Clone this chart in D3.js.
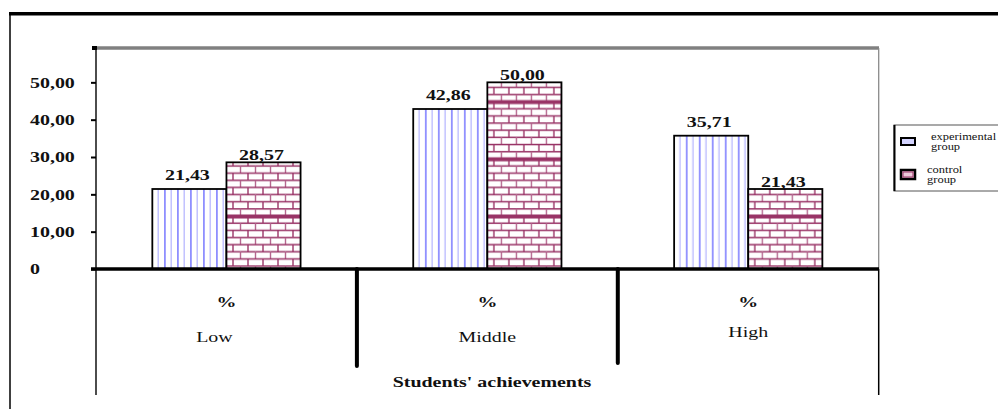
<!DOCTYPE html>
<html>
<head>
<meta charset="utf-8">
<script src="https://cdn.jsdelivr.net/npm/d3@7"></script>
<style>
  html, body { margin: 0; padding: 0; background: #fff; }
  #chart { width: 998px; height: 409px; }
  text { font-family: "Liberation Serif", "Times New Roman", serif; fill: #111; }
</style>
</head>
<body>
<div id="chart"></div>
<script>
// data
const categories = ["Low", "Middle", "High"];
const seriesNames = ["experimental group", "control group"];
const experimental = [21.43, 42.86, 35.71];
const control = [28.57, 50.00, 21.43];
const yTicks = [0, 10, 20, 30, 40, 50];
const yTop = 59.2;
const axisTitle = "Students' achievements";

const W = 998, H = 409;
const SX = 1.33; // source picture is stretched sideways, text too

const svg = d3.select("#chart").append("svg")
  .attr("width", W).attr("height", H);
const defs = svg.append("defs");

// vertical stripes for experimental group
const stripe = defs.append("pattern")
  .attr("id", "stripe").attr("patternUnits", "userSpaceOnUse")
  .attr("width", 13).attr("height", 10).attr("x", 3);
stripe.append("rect").attr("width", 13).attr("height", 10).attr("fill", "#fff");
[[0, 1.8, "#8f8fff"], [6.5, 1.4, "#bdbdff"]]
  .forEach(([x, w, c]) => stripe.append("rect")
    .attr("x", x).attr("width", w).attr("height", 10).attr("fill", c));

// brick pattern for control group
const rowH = 7.15, rows = 8, brickW = 15;
const brick = defs.append("pattern")
  .attr("id", "brick").attr("patternUnits", "userSpaceOnUse")
  .attr("width", brickW).attr("height", rowH * rows).attr("y", 44.4).attr("x", 2);
brick.append("rect").attr("width", brickW).attr("height", rowH * rows).attr("fill", "#fff");
for (let i = 0; i < rows; i++) {
  brick.append("rect")
    .attr("x", 0).attr("y", i * rowH - (i === 0 ? 1.5 : 0.7))
    .attr("width", brickW).attr("height", i === 0 ? 4 : 1.5)
    .attr("fill", "#993366");
  const vx = i % 2 ? brickW / 2 : 0;
  brick.append("rect")
    .attr("x", vx - 0.7).attr("y", i * rowH)
    .attr("width", 1.4).attr("height", rowH)
    .attr("fill", i % 2 ? "#b5678f" : "#993366");
  if (vx === 0) brick.append("rect")
    .attr("x", brickW - 0.7).attr("y", i * rowH)
    .attr("width", 1.4).attr("height", rowH).attr("fill", "#993366");
}
brick.append("rect").attr("x", 0).attr("y", rowH * rows - 1.5)
  .attr("width", brickW).attr("height", 1.5).attr("fill", "#993366");

// scales
const x0 = d3.scaleBand().domain(categories).range([96, 878.7]);
const x1 = d3.scaleBand().domain(seriesNames).range([0, x0.bandwidth()]).paddingOuter(0.76);
const y = d3.scaleLinear().domain([0, yTop]).range([269, 48]);
const fmt = v => v === 0 ? "0" : d3.format(".2f")(v).replace(".", ",");

const line = (x1_, y1_, x2_, y2_, w, c) => svg.append("line")
  .attr("x1", x1_).attr("y1", y1_).attr("x2", x2_).attr("y2", y2_)
  .attr("stroke", c || "#000").attr("stroke-width", w);

// outer frame
line(9, 13.7, W, 13.7, 3.5);
line(10, 13, 10, H, 1.5);

// plot frame
line(96, y(yTop), 879, y(yTop), 3.5, "#808080");
svg.append("rect").attr("x", 92).attr("y", y(yTop) - 2).attr("width", 5).attr("height", 4).attr("fill", "#000");
line(878.7, y(yTop), 878.7, y(0), 1.3, "#8a8a8a");
line(878.7, y(0), 878.7, 395, 1.5);
line(96, y(yTop), 96, 395, 1.4);

// y ticks
const yAxis = svg.append("g").attr("transform", "translate(96,0)")
  .call(d3.axisLeft(y).tickValues(yTicks).tickSize(5).tickFormat(""));
yAxis.select(".domain").remove();
yAxis.selectAll(".tick line").attr("stroke", "#000").attr("stroke-width", 2);

svg.append("g").selectAll("text").data(yTicks).join("text")
  .attr("transform", d => `translate(30,${y(d)}) scale(${SX},1)`)
  .attr("dy", "0.35em")
  .attr("font-size", 15).attr("font-weight", "bold")
  .text(fmt);

// bars
const seriesData = [experimental, control];
const fills = ["url(#stripe)", "url(#brick)"];
const groups = svg.append("g").selectAll("g").data(categories).join("g")
  .attr("transform", d => `translate(${x0(d)},0)`);

groups.selectAll("rect").data((d, i) => seriesNames.map((s, k) => ({ s, k, v: seriesData[k][i] })))
  .join("rect")
  .attr("x", d => x1(d.s))
  .attr("y", d => y(d.v))
  .attr("width", x1.bandwidth())
  .attr("height", d => y(0) - y(d.v))
  .attr("fill", d => fills[d.k])
  .attr("stroke", "#000").attr("stroke-width", 1.8);

groups.selectAll("text.val").data((d, i) => seriesNames.map((s, k) => ({ s, k, v: seriesData[k][i] })))
  .join("text").attr("class", "val")
  .attr("transform", d => `translate(${x1(d.s) + x1.bandwidth() / 2 - 2},${y(d.v) - (d.k === 0 ? 9 : 2)}) scale(${SX},1)`)
  .attr("text-anchor", "middle")
  .attr("font-size", 15).attr("font-weight", "bold")
  .text(d => fmt(d.v));

// baseline and separators
line(91, y(0), 879, y(0), 3.5);
categories.slice(1).forEach((c, i) => {
  line(x0(c), y(0), x0(c), i === 0 ? 366 : 363, 4).attr("stroke-linecap", "round");
});

// category labels
const cx = d => x0(d) + x0.bandwidth() / 2;
svg.append("g").selectAll("text").data(categories).join("text")
  .attr("transform", d => `translate(${cx(d)},307) scale(${SX},1)`)
  .attr("text-anchor", "middle").attr("font-size", 15).attr("font-weight", "bold")
  .text("%");
svg.append("g").selectAll("text").data(categories).join("text")
  .attr("transform", (d, i) => `translate(${cx(d) - (i === 0 ? 12 : 0)},${i === 2 ? 337 : 342}) scale(${SX},1)`)
  .attr("text-anchor", "middle").attr("font-size", 15)
  .text(d => d);

svg.append("text")
  .attr("transform", `translate(492,387) scale(${SX},1)`)
  .attr("text-anchor", "middle").attr("font-size", 15).attr("font-weight", "bold")
  .text(axisTitle);

// legend
const lg = svg.append("g");
defs.append("clipPath").attr("id", "lgclip").append("rect")
  .attr("x", 894).attr("y", 125).attr("width", 110).attr("height", 60);
lg.append("rect").attr("x", 894).attr("y", 125).attr("width", 110).attr("height", 66)
  .attr("fill", "#fff").attr("stroke", "#555").attr("stroke-width", 1);
line(894.5, 125, 894.5, 191, 2);
const lgText = lg.append("g").attr("clip-path", "url(#lgclip)");

const legendRows = [
  { name: seriesNames[0], sy: 138, sh: 7, fill: "#d4d4ff", tx: 931, ty: 140 },
  { name: seriesNames[1], sy: 170, sh: 9, fill: "#edc9da", tx: 927, ty: 173 }
];
legendRows.forEach((r, i) => {
  lg.append("rect").attr("x", 901).attr("y", r.sy).attr("width", 14).attr("height", r.sh)
    .attr("fill", r.fill).attr("stroke", "#000").attr("stroke-width", i === 0 ? 2 : 2.5);
  if (i === 1) lg.append("rect").attr("x", 903).attr("y", r.sy + 2).attr("width", 10).attr("height", r.sh - 4)
    .attr("fill", "none").attr("stroke", "#993366").attr("stroke-width", 1);
  r.name.split(" ").forEach((w, j) => {
    lgText.append("text")
      .attr("transform", `translate(${r.tx},${r.ty + j * 10}) scale(1.25,1)`)
      .attr("font-size", 10).text(w);
  });
});
</script>
</body>
</html>
